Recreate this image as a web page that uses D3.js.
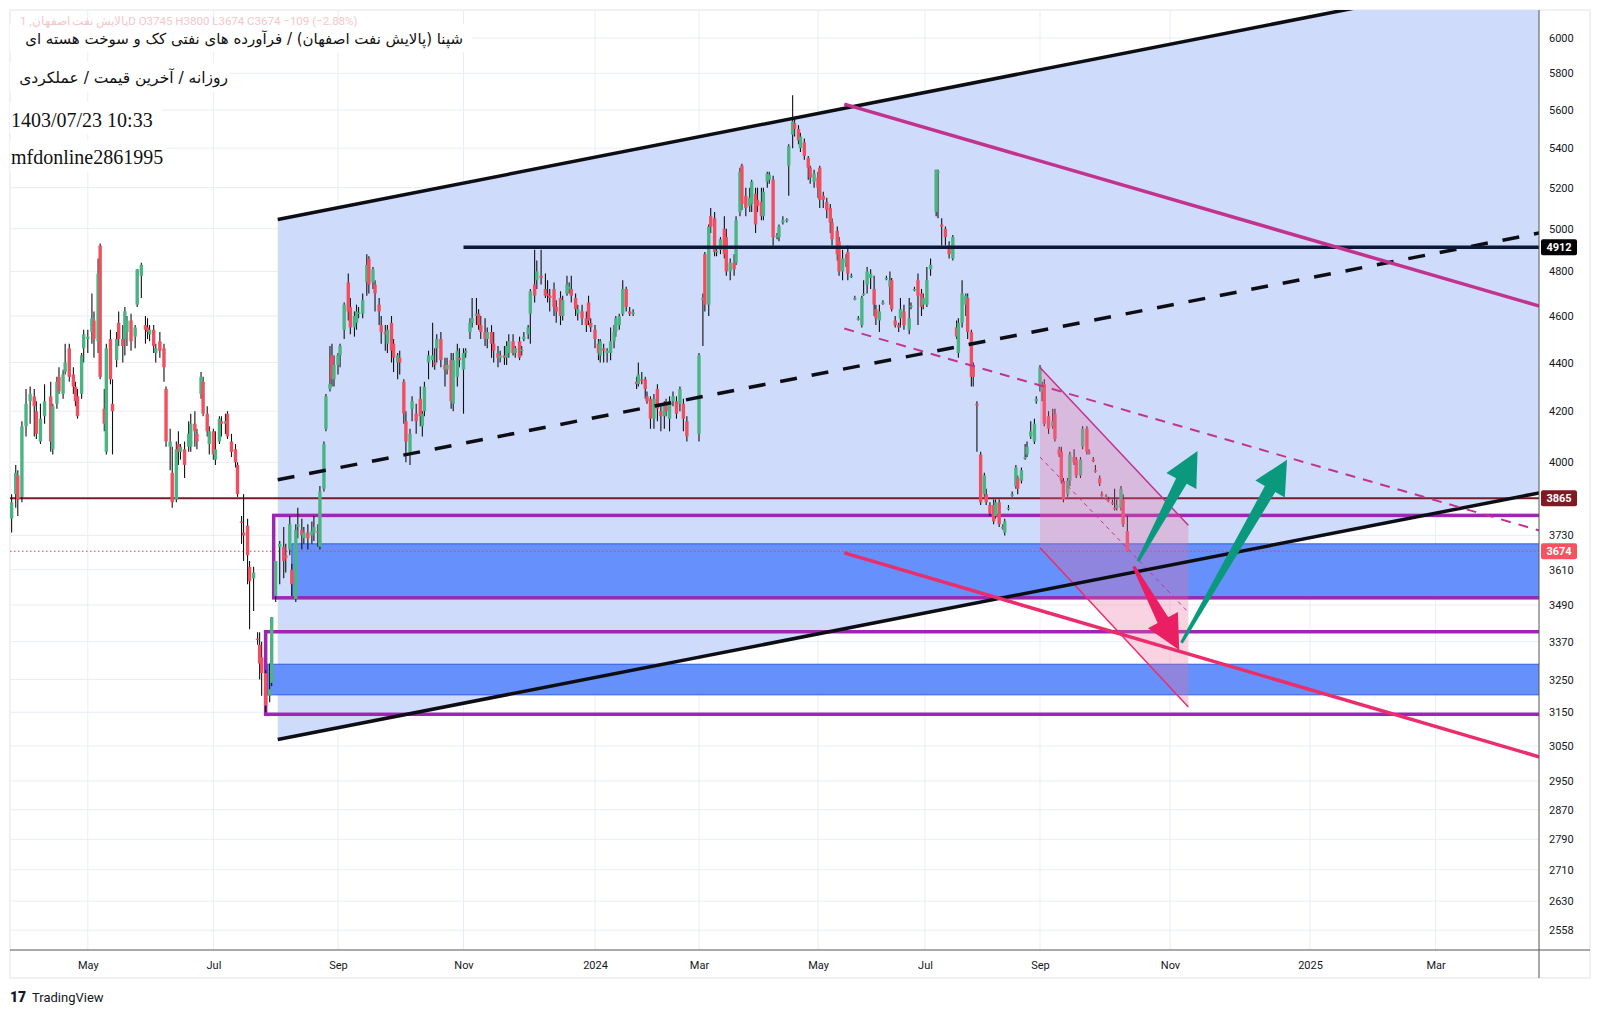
<!DOCTYPE html>
<html>
<head>
<meta charset="utf-8">
<script src="https://cdn.jsdelivr.net/npm/d3@7/dist/d3.min.js"></script>
<style>
  body { margin: 0; background: #fff; }
  svg { display: block; }
</style>
</head>
<body>
<svg id="chart" width="1600" height="1014"></svg>
<script>
'use strict';

// ---- data ----
const monthTicks = ['2023-05-01','2023-07-01','2023-09-01','2023-11-01','2024-01-01','2024-03-01',
  '2024-05-01','2024-07-01','2024-09-01','2024-11-01','2025-01-01','2025-03-01'];
const monthLabels = ['May','Jul','Sep','Nov','2024','Mar','May','Jul','Sep','Nov','2025','Mar'];
const priceTicks = [6000,5800,5600,5400,5200,5000,4800,4600,4400,4200,4000,3730,3610,3490,3370,3250,3150,3050,2950,2870,2790,2710,2630,2558];

// date, open, high, low, close
const candles = [
  ['2023-03-25',3790,3880,3740,3850],['2023-03-27',3880,3990,3830,3960],['2023-03-28',3950,3970,3800,3860],
  ['2023-03-30',3870,4160,3850,4140],['2023-04-01',4140,4290,4100,4230],['2023-04-03',4240,4300,4150,4270],
  ['2023-04-05',4260,4290,4100,4220],['2023-04-06',4200,4240,4090,4110],['2023-04-08',4080,4230,4070,4170],
  ['2023-04-10',4180,4310,4150,4240],['2023-04-13',4260,4320,4040,4080],['2023-04-14',4050,4230,4030,4220],
  ['2023-04-16',4230,4340,4210,4320],['2023-04-17',4340,4380,4270,4280],['2023-04-19',4270,4370,4250,4350],
  ['2023-04-20',4360,4480,4350,4400],['2023-04-22',4460,4480,4320,4340],['2023-04-24',4350,4380,4270,4300],
  ['2023-04-25',4300,4320,4220,4240],['2023-04-26',4260,4290,4170,4180],['2023-04-28',4270,4440,4250,4430],
  ['2023-04-29',4460,4540,4400,4520],['2023-05-01',4500,4540,4440,4510],['2023-05-03',4530,4700,4480,4590],
  ['2023-05-04',4580,4620,4420,4500],['2023-05-06',4490,4860,4440,4790],['2023-05-07',4920,4930,4330,4340],
  ['2023-05-09',4210,4290,4120,4150],['2023-05-10',4040,4480,4030,4460],['2023-05-12',4500,4540,4310,4330],
  ['2023-05-13',4230,4330,4030,4200],['2023-05-15',4410,4530,4380,4500],['2023-05-16',4570,4620,4470,4500],
  ['2023-05-18',4500,4560,4400,4470],['2023-05-19',4500,4640,4430,4620],['2023-05-20',4530,4600,4470,4580],
  ['2023-05-22',4580,4610,4450,4490],['2023-05-24',4510,4560,4460,4550],['2023-05-25',4650,4810,4640,4810],
  ['2023-05-27',4780,4840,4680,4830],['2023-05-29',4560,4600,4480,4540],['2023-05-30',4550,4590,4500,4530],
  ['2023-05-31',4520,4560,4490,4540],['2023-06-02',4540,4560,4440,4470],['2023-06-03',4440,4480,4400,4460],
  ['2023-06-05',4490,4530,4420,4450],['2023-06-07',4460,4480,4320,4380],['2023-06-08',4290,4300,4060,4080],
  ['2023-06-10',4060,4130,3970,4080],['2023-06-11',3960,4060,3830,3850],['2023-06-13',3860,4080,3850,4050],
  ['2023-06-14',4070,4120,3990,4040],['2023-06-15',4040,4070,4010,4060],['2023-06-17',4050,4080,3940,3990],
  ['2023-06-19',4060,4160,4040,4110],['2023-06-20',4060,4190,4040,4150],['2023-06-22',4150,4200,4060,4120],
  ['2023-06-23',4110,4130,4050,4080],['2023-06-25',4270,4360,4250,4340],['2023-06-26',4320,4340,4180,4190],
  ['2023-06-28',4190,4220,4100,4120],['2023-06-29',4070,4140,4030,4120],['2023-07-01',4120,4130,4010,4030],
  ['2023-07-02',4010,4120,3990,4050],['2023-07-04',4080,4180,4070,4170],['2023-07-05',4160,4180,4100,4150],
  ['2023-07-07',4150,4190,4110,4160],['2023-07-08',4190,4200,4090,4100],['2023-07-10',4080,4110,4020,4040],
  ['2023-07-12',4050,4070,3980,4000],['2023-07-13',3990,4000,3870,3880],['2023-07-15',3780,3800,3700,3775],
  ['2023-07-16',3740,3880,3640,3730],['2023-07-18',3765,3790,3560,3660],['2023-07-19',3620,3640,3410,3570],
  ['2023-07-21',3580,3620,3470,3600],['2023-07-23',3380,3400,3360,3375],['2023-07-24',3360,3400,3250,3300],
  ['2023-07-25',3320,3370,3200,3270],['2023-07-27',3270,3280,3150,3170],['2023-07-29',3200,3300,3180,3220],
  ['2023-07-30',3240,3450,3230,3450],['2023-08-01',3520,3640,3500,3640],['2023-08-03',3690,3710,3560,3700],
  ['2023-08-05',3690,3760,3580,3640],['2023-08-06',3660,3700,3600,3650],['2023-08-08',3680,3800,3660,3770],
  ['2023-08-09',3610,3630,3520,3560],['2023-08-11',3510,3770,3500,3750],['2023-08-12',3760,3830,3720,3770],
  ['2023-08-14',3750,3790,3680,3730],['2023-08-15',3720,3760,3700,3740],['2023-08-17',3740,3770,3680,3720],
  ['2023-08-19',3730,3780,3700,3745],['2023-08-20',3740,3800,3710,3760],['2023-08-22',3745,3770,3690,3740],
  ['2023-08-23',3690,3910,3680,3890],['2023-08-25',3900,4080,3890,4070],['2023-08-26',4130,4270,4120,4260],
  ['2023-08-28',4290,4470,4280,4310],['2023-08-29',4430,4480,4300,4330],['2023-08-30',4330,4430,4300,4390],
  ['2023-09-01',4390,4440,4350,4430],['2023-09-02',4430,4480,4380,4470],['2023-09-04',4540,4660,4500,4650],
  ['2023-09-06',4750,4790,4580,4620],['2023-09-07',4640,4680,4520,4550],['2023-09-09',4550,4620,4510,4600],
  ['2023-09-10',4570,4650,4540,4620],['2023-09-11',4610,4640,4590,4615],['2023-09-13',4610,4700,4590,4670],
  ['2023-09-15',4750,4880,4690,4830],['2023-09-16',4860,4870,4700,4740],['2023-09-18',4750,4820,4720,4810],
  ['2023-09-19',4740,4760,4620,4700],['2023-09-21',4650,4680,4560,4620],['2023-09-22',4560,4600,4480,4530],
  ['2023-09-24',4530,4560,4450,4520],['2023-09-25',4480,4560,4440,4540],['2023-09-27',4570,4600,4400,4450],
  ['2023-09-28',4480,4500,4360,4420],['2023-09-30',4400,4440,4330,4430],['2023-10-01',4420,4450,4350,4400],
  ['2023-10-03',4320,4330,4150,4190],['2023-10-04',4160,4200,4000,4080],['2023-10-06',4040,4130,3990,4110],
  ['2023-10-07',4210,4260,4160,4240],['2023-10-09',4190,4230,4110,4160],['2023-10-11',4250,4300,4140,4180],
  ['2023-10-12',4140,4200,4100,4190],['2023-10-13',4200,4320,4180,4300],['2023-10-15',4400,4450,4330,4430],
  ['2023-10-17',4410,4570,4380,4430],['2023-10-18',4400,4460,4370,4390],['2023-10-19',4460,4520,4400,4500],
  ['2023-10-21',4500,4530,4380,4410],['2023-10-23',4390,4420,4300,4370],['2023-10-24',4370,4420,4350,4390],
  ['2023-10-26',4410,4440,4210,4240],['2023-10-27',4230,4440,4200,4410],['2023-10-29',4340,4480,4300,4450],
  ['2023-10-30',4420,4460,4380,4410],['2023-11-01',4370,4460,4190,4440],['2023-11-02',4440,4460,4420,4450],
  ['2023-11-04',4530,4590,4500,4570],['2023-11-05',4570,4680,4550,4590],['2023-11-07',4600,4680,4560,4610],
  ['2023-11-08',4610,4630,4540,4560],['2023-11-09',4560,4600,4500,4530],['2023-11-11',4530,4590,4470,4500],
  ['2023-11-12',4500,4550,4460,4530],['2023-11-14',4530,4560,4420,4480],['2023-11-15',4480,4530,4400,4450],
  ['2023-11-17',4440,4470,4380,4420],['2023-11-18',4420,4450,4400,4430],['2023-11-20',4430,4470,4390,4420],
  ['2023-11-21',4420,4490,4390,4470],['2023-11-22',4440,4520,4420,4490],['2023-11-24',4490,4520,4430,4440],
  ['2023-11-25',4440,4470,4420,4460],['2023-11-27',4490,4510,4410,4420],['2023-11-28',4450,4470,4430,4455],
  ['2023-11-29',4500,4530,4490,4510],['2023-12-01',4520,4560,4500,4550],['2023-12-02',4610,4720,4480,4710],
  ['2023-12-04',4740,4900,4660,4690],['2023-12-05',4760,4850,4720,4800],['2023-12-07',4780,4900,4740,4770],
  ['2023-12-09',4720,4790,4680,4690],['2023-12-10',4700,4760,4660,4690],['2023-12-11',4690,4720,4620,4680],
  ['2023-12-13',4720,4750,4600,4640],['2023-12-14',4640,4670,4570,4620],['2023-12-16',4680,4710,4560,4600],
  ['2023-12-17',4600,4690,4580,4670],['2023-12-19',4700,4780,4690,4740],['2023-12-20',4720,4750,4700,4730],
  ['2023-12-21',4720,4780,4660,4690],['2023-12-23',4680,4700,4600,4630],['2023-12-24',4610,4650,4580,4630],
  ['2023-12-26',4620,4650,4560,4590],['2023-12-28',4590,4620,4530,4560],['2023-12-29',4660,4690,4560,4580],
  ['2023-12-30',4570,4590,4530,4550],['2024-01-01',4540,4560,4460,4500],['2024-01-03',4480,4500,4410,4440],
  ['2024-01-04',4430,4500,4400,4490],['2024-01-06',4460,4480,4400,4450],['2024-01-08',4440,4460,4400,4450],
  ['2024-01-10',4440,4550,4410,4490],['2024-01-12',4490,4560,4460,4530],['2024-01-13',4530,4600,4510,4590],
  ['2024-01-15',4560,4610,4540,4600],['2024-01-17',4610,4760,4600,4720],['2024-01-19',4720,4730,4620,4640],
  ['2024-01-21',4620,4640,4600,4610],['2024-01-23',4610,4630,4600,4615],['2024-01-25',4320,4340,4290,4310],
  ['2024-01-26',4310,4400,4300,4350],['2024-01-28',4330,4360,4310,4325],['2024-01-30',4330,4340,4250,4290],
  ['2024-01-31',4260,4280,4230,4240],['2024-02-02',4250,4260,4130,4170],['2024-02-04',4170,4270,4130,4250],
  ['2024-02-06',4290,4310,4160,4210],['2024-02-08',4200,4220,4120,4180],['2024-02-10',4180,4240,4130,4230],
  ['2024-02-11',4230,4250,4180,4200],['2024-02-13',4170,4260,4120,4240],['2024-02-15',4240,4280,4220,4260],
  ['2024-02-17',4240,4260,4170,4190],['2024-02-19',4230,4300,4200,4290],['2024-02-21',4230,4250,4120,4170],
  ['2024-02-23',4160,4180,4080,4100],['2024-03-01',4110,4440,4080,4430],['2024-03-03',4670,4700,4470,4680],
  ['2024-03-04',4880,4890,4620,4650],['2024-03-06',4650,5020,4600,5010],['2024-03-07',5060,5100,4980,5010],
  ['2024-03-09',5050,5080,4870,4890],['2024-03-10',4890,4910,4870,4895],['2024-03-12',4900,4960,4880,4950],
  ['2024-03-14',5000,5060,4860,4880],['2024-03-15',4960,5000,4780,4800],['2024-03-17',4800,4860,4760,4840],
  ['2024-03-19',4840,4880,4780,4810],['2024-03-20',4840,5060,4830,5040],['2024-03-22',5080,5300,5060,5280],
  ['2024-03-23',5310,5320,5090,5120],['2024-03-25',5160,5200,5060,5100],['2024-03-27',5110,5200,5080,5150],
  ['2024-03-28',5120,5240,5080,5230],['2024-03-30',5170,5200,4980,5020],['2024-03-31',5140,5200,5080,5110],
  ['2024-04-02',5130,5200,5040,5060],['2024-04-03',5060,5200,5040,5180],['2024-04-05',5230,5280,5200,5270],
  ['2024-04-06',5240,5280,5220,5265],['2024-04-08',5240,5260,4920,4960],['2024-04-10',4960,4980,4950,4965],
  ['2024-04-11',4960,5020,4940,5010],['2024-04-13',5030,5060,5020,5040],['2024-04-15',5040,5050,5030,5045],
  ['2024-04-16',5310,5420,5160,5410],['2024-04-18',5470,5680,5400,5540],['2024-04-19',5530,5560,5460,5500],
  ['2024-04-21',5500,5520,5420,5440],['2024-04-22',5400,5480,5380,5460],['2024-04-24',5430,5450,5340,5360],
  ['2024-04-26',5350,5360,5240,5300],['2024-04-27',5300,5310,5220,5250],['2024-04-29',5230,5290,5200,5270],
  ['2024-05-01',5250,5280,5150,5200],['2024-05-02',5300,5310,5100,5140],['2024-05-04',5160,5180,5100,5140],
  ['2024-05-06',5130,5150,5050,5090],['2024-05-08',5100,5120,4980,5030],['2024-05-09',5030,5050,4920,4950],
  ['2024-05-12',4990,5010,4850,4880],['2024-05-13',4940,4960,4780,4800],['2024-05-15',4800,4900,4760,4860],
  ['2024-05-17',4840,4880,4820,4860],['2024-05-18',4890,4920,4760,4790],['2024-05-20',4780,4790,4770,4780],
  ['2024-05-22',4680,4690,4670,4680],['2024-05-24',4590,4600,4580,4590],['2024-05-26',4560,4690,4550,4680],
  ['2024-05-27',4700,4760,4690,4700],['2024-05-29',4740,4820,4700,4800],['2024-05-31',4770,4810,4720,4790],
  ['2024-06-02',4720,4780,4600,4650],['2024-06-03',4630,4650,4560,4590],['2024-06-05',4580,4650,4530,4620],
  ['2024-06-07',4660,4670,4650,4660],['2024-06-09',4770,4780,4760,4770],['2024-06-11',4730,4800,4650,4760],
  ['2024-06-12',4760,4770,4620,4630],['2024-06-14',4580,4600,4550,4560],['2024-06-16',4560,4570,4530,4550],
  ['2024-06-17',4590,4680,4550,4630],['2024-06-19',4620,4650,4540,4560],['2024-06-22',4540,4680,4520,4590],
  ['2024-06-23',4640,4660,4630,4645],['2024-06-25',4720,4730,4710,4720],['2024-06-27',4760,4790,4560,4690],
  ['2024-06-29',4700,4720,4600,4640],['2024-06-30',4650,4700,4630,4680],['2024-07-02',4650,4820,4640,4760],
  ['2024-07-04',4810,4860,4780,4830],['2024-07-07',5080,5290,5060,5290],['2024-07-08',5280,5290,5050,5280],
  ['2024-07-10',5020,5050,4920,5010],['2024-07-12',5000,5010,4920,4960],['2024-07-14',4920,4940,4860,4880],
  ['2024-07-16',4860,4970,4850,4960],['2024-07-18',4550,4580,4500,4510],['2024-07-19',4440,4590,4420,4570],
  ['2024-07-21',4570,4760,4550,4700],['2024-07-23',4650,4700,4600,4690],['2024-07-24',4680,4700,4500,4530],
  ['2024-07-26',4530,4540,4300,4340],['2024-07-27',4390,4400,4300,4340],['2024-07-29',4230,4240,4040,4225],
  ['2024-07-31',4030,4040,3840,3850],['2024-08-02',3880,3960,3870,3950],['2024-08-03',3880,3900,3840,3850],
  ['2024-08-05',3840,3850,3800,3810],['2024-08-07',3840,3860,3770,3780],['2024-08-08',3800,3860,3790,3850],
  ['2024-08-10',3850,3860,3760,3770],['2024-08-12',3760,3770,3750,3758],['2024-08-13',3740,3790,3730,3780],
  ['2024-08-15',3830,3840,3820,3830],['2024-08-17',3880,3890,3870,3880],['2024-08-19',3910,3990,3900,3980],
  ['2024-08-20',3940,3950,3880,3900],['2024-08-22',3930,3980,3920,3970],['2024-08-24',4020,4070,4010,4020],
  ['2024-08-25',4030,4080,4020,4060],['2024-08-27',4100,4160,4090,4120],['2024-08-29',4080,4170,4070,4150],
  ['2024-08-30',4240,4260,4230,4250],['2024-09-01',4300,4390,4280,4380],['2024-09-02',4280,4320,4240,4300],
  ['2024-09-03',4310,4330,4140,4150],['2024-09-05',4180,4200,4110,4130],['2024-09-07',4140,4210,4130,4160],
  ['2024-09-08',4190,4210,4080,4090],['2024-09-10',4050,4060,4020,4030],['2024-09-11',4040,4060,3920,3930],
  ['2024-09-12',3930,3940,3850,3860],['2024-09-14',3880,3940,3870,3930],['2024-09-15',3930,4040,3910,4030],
  ['2024-09-17',4020,4050,3990,4000],['2024-09-18',4010,4020,3940,3950],['2024-09-20',3950,4020,3940,4010],
  ['2024-09-21',4060,4140,4050,4130],['2024-09-23',4130,4140,4030,4040],['2024-09-24',4040,4050,4030,4035],
  ['2024-09-26',4010,4020,4000,4005],['2024-09-27',3970,3990,3960,3965],['2024-09-29',3940,3950,3910,3920],
  ['2024-09-30',3880,3890,3870,3878],['2024-10-02',3870,3880,3860,3865],['2024-10-03',3860,3870,3850,3855],
  ['2024-10-05',3850,3860,3840,3845],['2024-10-06',3830,3900,3820,3828],['2024-10-07',3830,3860,3820,3840],
  ['2024-10-09',3830,3910,3820,3900],['2024-10-10',3860,3880,3760,3770],['2024-10-12',3745,3800,3674,3674]
];

// drawings: [date, price]
const channelUpper = [['2023-08-02',5044],['2025-04-19',6392]];
const channelLower = [['2023-08-02',3069],['2025-04-19',3885]];
const midDashed = [['2023-08-02',3934],['2025-04-19',4980]];
const level4912 = [['2023-11-01',4912],['2025-04-19',4912]];
const magentaLine = [['2024-05-16',5632],['2025-04-19',4643]];
const magentaDashed = [['2024-05-16',4545],['2025-04-19',3747]];
const pinkLine = [['2024-05-16',3668],['2025-04-19',3018]];
const level3865 = 3865;
const lastPrice = 3674;
// zones: [start date, top, bottom]
const purpleZones = [['2023-07-31',3802,3514],['2023-07-27',3402,3144]];
const blueZones = [['2023-08-09',3700,3517],['2023-07-28',3298,3203]];
const projTop = [['2024-09-01',4379],['2024-11-09',3766]];
const projBottom = [['2024-09-01',3686],['2024-11-09',3166]];
const projMid = [['2024-09-01',4020],['2024-11-09',3466]];
// arrows: [tail, head]
const greenArrows = [[['2024-10-17',3639],['2024-11-13',4043]],[['2024-11-06',3366],['2024-12-22',4010]]];
const pinkArrow = [['2024-10-15',3621],['2024-11-05',3343]];

// ---- layout ----
const L = 10, R = 1539, T = 10, B = 950;
const parse = d3.timeParse('%Y-%m-%d');
const x = d3.scaleTime()
  .domain(monthTicks.map(parse))
  .range([87.8, 213.4, 338, 463.5, 595, 699, 818, 925, 1040, 1170, 1310, 1435.6]);
const y = d3.scaleLog().domain([2510, 6162]).range([B, T]);
const px = p => [x(parse(p[0])), y(p[1])];

const svg = d3.select('#chart');
svg.append('rect').attr('x', 10).attr('y', 10).attr('width', 1580).attr('height', 968)
  .attr('fill', '#fff').attr('stroke', '#e0e3eb');
svg.append('defs').append('clipPath').attr('id', 'plot')
  .append('rect').attr('x', L).attr('y', T).attr('width', R - L).attr('height', B - T);

const grid = svg.append('g').attr('stroke', '#e8edf5').attr('stroke-width', 1);
grid.selectAll('.h').data(priceTicks).join('line')
  .attr('x1', L).attr('x2', R).attr('y1', d => y(d)).attr('y2', d => y(d));
grid.selectAll('.v').data(monthTicks).join('line')
  .attr('y1', T).attr('y2', B).attr('x1', d => x(parse(d))).attr('x2', d => x(parse(d)));

const plot = svg.append('g').attr('clip-path', 'url(#plot)');

// channel fill
const chanPts = [px(channelUpper[0]), px(channelUpper[1]), px(channelLower[1]), px(channelLower[0])];
plot.append('polygon').attr('points', chanPts.map(p => p.join(',')).join(' '))
  .attr('fill', '#cfdbfb');

// blue zones
plot.selectAll('.bz').data(blueZones).join('rect')
  .attr('x', d => x(parse(d[0]))).attr('width', d => R - x(parse(d[0])) + 5)
  .attr('y', d => y(d[1])).attr('height', d => y(d[2]) - y(d[1]))
  .attr('fill', '#6690fb').attr('stroke', '#2f5fe0').attr('stroke-width', 1);

// purple zones
plot.selectAll('.pz').data(purpleZones).join('rect')
  .attr('x', d => x(parse(d[0]))).attr('width', d => R - x(parse(d[0])) + 10)
  .attr('y', d => y(d[1])).attr('height', d => y(d[2]) - y(d[1]))
  .attr('fill', 'none').attr('stroke', '#9c27b0').attr('stroke-width', 3.5);

// horizontal levels
plot.append('line').attr('x1', L).attr('x2', R).attr('y1', y(level3865)).attr('y2', y(level3865))
  .attr('stroke', '#7b1a2a').attr('stroke-width', 2);
plot.append('line').attr('x1', L).attr('x2', R).attr('y1', y(lastPrice)).attr('y2', y(lastPrice))
  .attr('stroke', '#f23645').attr('stroke-width', 1).attr('stroke-dasharray', '1.5,2.5');

// candles
const cw = 3.4;
const cg = plot.append('g');
cg.selectAll('.w').data(candles).join('line')
  .attr('x1', d => x(parse(d[0]))).attr('x2', d => x(parse(d[0])))
  .attr('y1', d => y(d[2])).attr('y2', d => y(d[3]))
  .attr('stroke', '#111').attr('stroke-width', 1.1);
cg.selectAll('.b').data(candles).join('rect')
  .attr('x', d => x(parse(d[0])) - cw / 2).attr('width', cw)
  .attr('y', d => y(Math.max(d[1], d[4])))
  .attr('height', d => Math.max(1.5, Math.abs(y(d[1]) - y(d[4]))))
  .attr('fill', d => d[4] >= d[1] ? '#4cb484' : '#ef5060');

// projection shape
const projPts = [px(projTop[0]), px(projTop[1]), px(projBottom[1]), px(projBottom[0])];
plot.append('polygon').attr('points', projPts.map(p => p.join(',')).join(' '))
  .attr('fill', 'rgba(240,110,160,0.3)');
const seg = (pts, color, w, dash) => plot.append('line')
  .attr('x1', px(pts[0])[0]).attr('y1', px(pts[0])[1])
  .attr('x2', px(pts[1])[0]).attr('y2', px(pts[1])[1])
  .attr('stroke', color).attr('stroke-width', w).attr('stroke-dasharray', dash || null);
seg(projTop, '#c2338f', 1.5);
seg(projBottom, '#ec2d6b', 1.5);
seg(projMid, '#c2338f', 1, '4,4');

// trend lines
seg(channelUpper, '#0d0d14', 3.5);
seg(channelLower, '#0d0d14', 3.5);
seg(midDashed, '#0d0d14', 3.5, '17,15');
seg(level4912, '#0c1838', 3.5);
seg(magentaLine, '#c2338f', 3.5);
seg(magentaDashed, '#c2338f', 2, '10,8');
seg(pinkLine, '#ec2d6b', 3.5);

// arrows
function arrow(a, color) {
  const [x0, y0] = px(a[0]), [x1, y1] = px(a[1]);
  const len = Math.hypot(x1 - x0, y1 - y0), ux = (x1 - x0) / len, uy = (y1 - y0) / len;
  const nx = -uy, ny = ux, hl = 34, hw = 17;
  const bx = x1 - ux * hl, by = y1 - uy * hl;
  const pts = [[x0 + nx * 1.5, y0 + ny * 1.5], [bx + nx * 6, by + ny * 6], [bx + nx * hw, by + ny * hw],
    [x1, y1], [bx - nx * hw, by - ny * hw], [bx - nx * 6, by - ny * 6], [x0 - nx * 1.5, y0 - ny * 1.5]];
  plot.append('polygon').attr('points', pts.map(p => p.join(',')).join(' ')).attr('fill', color);
}
greenArrows.forEach(a => arrow(a, '#0a997d'));
arrow(pinkArrow, '#e91e63');

// axes frame
svg.append('line').attr('x1', R).attr('x2', R).attr('y1', T).attr('y2', 978).attr('stroke', '#555').attr('stroke-width', 1);
svg.append('line').attr('x1', L).attr('x2', 1590).attr('y1', B).attr('y2', B).attr('stroke', '#555').attr('stroke-width', 1);

const yAxis = d3.axisRight(y).tickValues(priceTicks).tickSize(0).tickFormat(d3.format('d'));
svg.append('g').attr('transform', `translate(${R + 7},0)`).call(yAxis)
  .call(g => g.select('.domain').remove())
  .selectAll('text').attr('font-family', 'Roboto, sans-serif').attr('font-size', 11).attr('fill', '#131722');

const xAxis = d3.axisBottom(x).tickValues(monthTicks.map(parse)).tickSize(0)
  .tickFormat((d, i) => monthLabels[i]);
svg.append('g').attr('transform', `translate(0,${B + 8})`).call(xAxis)
  .call(g => g.select('.domain').remove())
  .selectAll('text').attr('font-family', 'Roboto, sans-serif').attr('font-size', 11).attr('fill', '#131722');

// price labels
function priceTag(v, bg) {
  const g = svg.append('g').attr('transform', `translate(${R},${y(v)})`);
  g.append('rect').attr('x', 2).attr('y', -8).attr('width', 36).attr('height', 16).attr('rx', 2).attr('fill', bg);
  g.append('text').attr('x', 20).attr('y', 4).attr('text-anchor', 'middle').attr('fill', '#fff')
    .attr('font-family', 'Roboto, sans-serif').attr('font-size', 11).attr('font-weight', 'bold').text(v);
}
priceTag(4912, '#000');
priceTag(level3865, '#801922');
priceTag(lastPrice, '#f7525f');

// header texts
const head = svg.append('g');
[[10, 24, 462, 28], [10, 62, 220, 30], [10, 102, 152, 32], [10, 140, 156, 32]].forEach(r =>
  head.append('rect').attr('x', r[0]).attr('y', r[1]).attr('width', r[2]).attr('height', r[3]).attr('fill', '#fff'));
head.append('text').attr('x', 20).attr('y', 25).attr('font-family', 'Roboto, sans-serif').attr('font-size', 11.5)
  .attr('fill', '#f5c6cc').text('پالایش نفت اصفهان, 1D  O3745  H3800  L3674  C3674  −109 (−2.88%)');
head.append('text').attr('x', 463).attr('y', 44).attr('direction', 'rtl')
  .attr('font-family', 'DejaVu Sans, sans-serif').attr('font-size', 15).attr('fill', '#111')
  .text('شپنا (پالایش نفت اصفهان) / فرآورده های نفتی کک و سوخت هسته ای');
head.append('text').attr('x', 228).attr('y', 83).attr('direction', 'rtl')
  .attr('font-family', 'DejaVu Sans, sans-serif').attr('font-size', 15.5).attr('fill', '#111')
  .text('روزانه / آخرین قیمت / عملکردی');
head.append('text').attr('x', 11).attr('y', 127).attr('font-family', 'Liberation Serif, serif')
  .attr('font-size', 20).attr('fill', '#111').text('1403/07/23 10:33');
head.append('text').attr('x', 11).attr('y', 164).attr('font-family', 'Liberation Serif, serif')
  .attr('font-size', 20).attr('fill', '#111').text('mfdonline2861995');

// logo
svg.append('text').attr('x', 10).attr('y', 1002).attr('font-family', 'Roboto, sans-serif')
  .attr('font-size', 14).attr('font-weight', 900).attr('fill', '#131722').text('17');
svg.append('text').attr('x', 32).attr('y', 1002).attr('font-family', 'Roboto, sans-serif')
  .attr('font-size', 13).attr('fill', '#131722').text('TradingView');
</script>
</body>
</html>
